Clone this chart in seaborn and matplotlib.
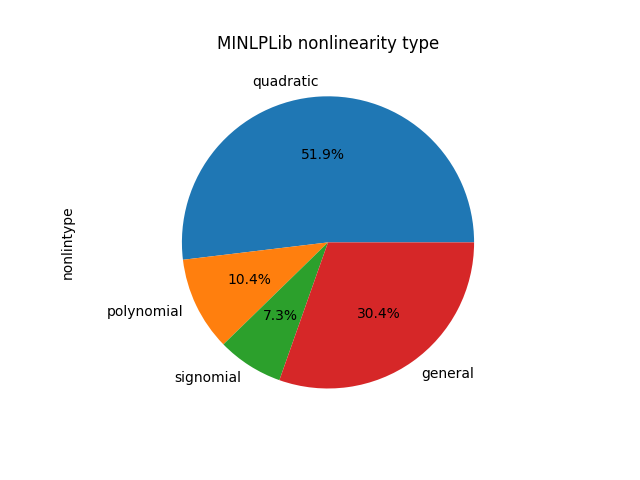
import pandas as pd
import seaborn as sns
import matplotlib
matplotlib.use('Agg')
import matplotlib.pyplot as plt

#Nonlinearity type shares (percent)
nlTypes=['quadratic','polynomial','signomial','general']
nlShares=[51.9,10.4,7.3,30.4]

nlSeries=pd.Series(nlShares,index=nlTypes,name='nonlintype')

colors=sns.color_palette('tab10')[:len(nlTypes)]

fig,ax=plt.subplots(figsize=(6.4,4.8),dpi=100)
ax.pie(nlSeries.values,labels=nlSeries.index,autopct='%.1f%%',colors=colors)
ax.set_ylim(-1.265,1.265)
ax.set_aspect('equal',adjustable='datalim')
ax.set_ylabel('nonlintype')
ax.set_title('MINLPLib nonlinearity type')
fig.savefig('out.png')
